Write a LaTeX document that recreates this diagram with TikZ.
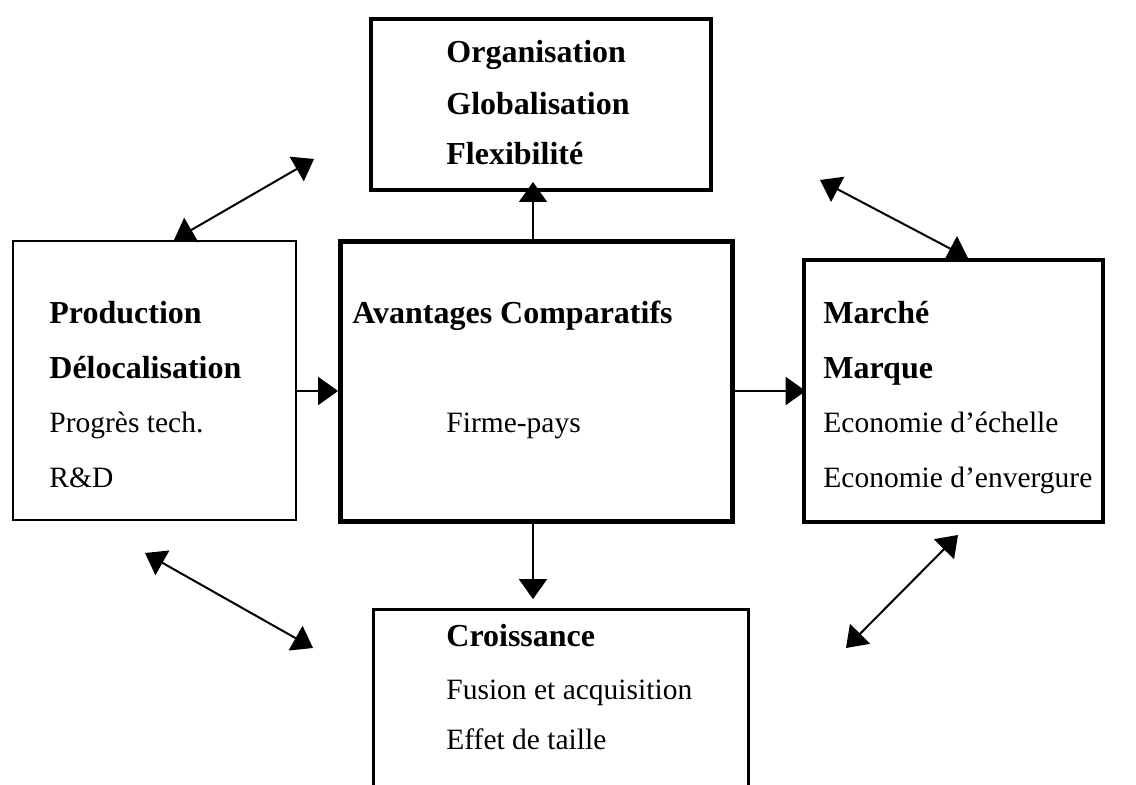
\documentclass[tikz,border=0pt]{standalone}
\usepackage{fontspec}
\setmainfont{Liberation Serif}
\usetikzlibrary{arrows.meta,positioning}

\begin{document}
\begin{tikzpicture}[
x=0.5pt,y=-0.5pt,
box/.style={
  draw,
  rectangle,
  inner sep=0pt,
  line width=1pt
  },
heavy box/.style={
  box,
  line width=2.3pt
  },
title/.style={
  anchor=base west,
  inner sep=0pt,
  font=\fontsize{16}{19}\selectfont\bfseries
  },
item/.style={
  anchor=base west,
  inner sep=0pt,
  font=\fontsize{14.75}{18}\selectfont
  },
>={Triangle[length=10pt,width=14pt]}
]
\clip (0,0) rectangle (1136,785);

% boxes
\node[heavy box,line width=2pt,minimum width=170pt,minimum height=85.5pt] (orga) at (541,104.5) {};
\node[heavy box,line width=2.4pt,minimum width=196pt,minimum height=140pt] (avant) at (536.5,381.5) {};
\node[box,minimum width=141.5pt,minimum height=139.5pt] (prod) at (154.5,380.5) {};
\node[heavy box,minimum width=149.5pt,minimum height=131pt] (marche) at (953.5,391) {};
\node[box,line width=1.4pt,minimum width=187.5pt,minimum height=95.5pt] (crois) at (561,705) {};

% texts
\node[title] (org1) at (446,63) {Organisation};
\node[title] (org2) at (446,115) {Globalisation};
\node[title] (org3) at (446,165) {Flexibilité};

\node[title] (av1) at (352,324) {Avantages Comparatifs};
\node[item] (av2) at (446,433) {Firme-pays};

\node[title] (pr1) at (49,324) {Production};
\node[title] (pr2) at (49,379) {Délocalisation};
\node[item] (pr3) at (49,433) {Progrès tech.};
\node[item] (pr4) at (49,488) {R\&D};

\node[title] (ma1) at (823,324) {Marché};
\node[title] (ma2) at (823,379) {Marque};
\node[item] (ma3) at (823,433) {Economie d’échelle};
\node[item] (ma4) at (823,488) {Economie d’envergure};

\node[title] (cr1) at (446,647) {Croissance};
\node[item] (cr2) at (446,700) {Fusion et acquisition};
\node[item] (cr3) at (446,750) {Effet de taille};

% straight links
\coordinate (axe) at (533,0);
\coordinate (rang) at (0,391);
\draw[->,line width=1pt] (axe |- avant.north) -- ([yshift=5pt]axe |- orga.south);
\draw[->,line width=1pt,shorten >=4.5pt] (axe |- avant.south) -- (axe |- crois.north);
\draw[->,line width=1pt] (prod.east |- rang) -- (avant.west |- rang);
\draw[->,line width=1pt] (avant.east |- rang) -- ([xshift=2pt]marche.west |- rang);

% double arrows
\coordinate (hg1) at (174,240);
\coordinate (hg2) at (314,159);
\coordinate (hd1) at (820,180);
\coordinate (hd2) at (968,258);
\coordinate (bg1) at (145,553);
\coordinate (bg2) at (313,648);
\coordinate (bd1) at (958,535);
\coordinate (bd2) at (846,648);
\foreach \a/\b in {hg1/hg2,hd1/hd2,bg1/bg2,bd1/bd2}
  \draw[<->,line width=1pt] (\a) -- (\b);

\end{tikzpicture}
\end{document}
